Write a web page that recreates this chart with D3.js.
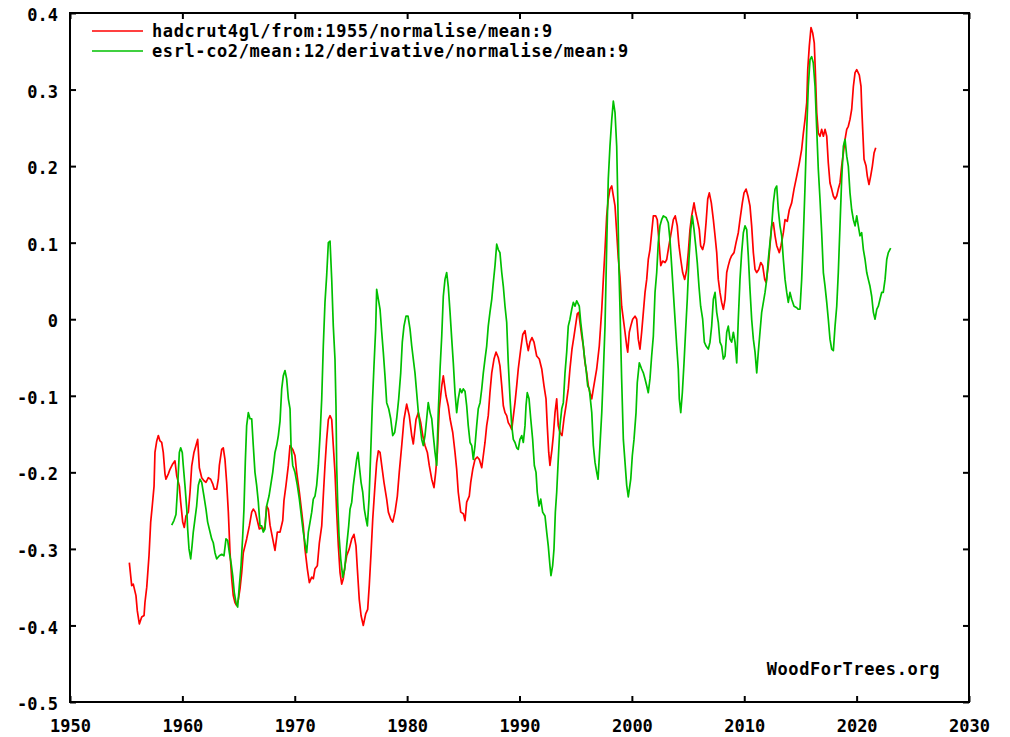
<!DOCTYPE html>
<html>
<head>
<meta charset="utf-8">
<script src="https://cdn.jsdelivr.net/npm/d3@7"></script>
<style>
  html, body { margin: 0; padding: 0; background: #fff; }
  svg { display: block; }
  .lbl { font-family: "DejaVu Sans Mono", monospace; font-weight: bold; fill: #000; }
</style>
</head>
<body>
<svg id="chart" width="1010" height="737"></svg>
<script>
// Series labels
const seriesNames = [
  "hadcrut4gl/from:1955/normalise/mean:9",
  "esrl-co2/mean:12/derivative/normalise/mean:9"
];
const seriesColors = ["#ff0000", "#00c000"];

// Axis ticks
const xTicks = [1950, 1960, 1970, 1980, 1990, 2000, 2010, 2020, 2030];
const yTicks = [-0.5, -0.4, -0.3, -0.2, -0.1, 0, 0.1, 0.2, 0.3, 0.4];

// HadCRUT4 global, normalised, 9-month mean: [year, value]
const hadcrut = [
  [1955.28,-0.318],[1955.49,-0.348],[1955.63,-0.346],[1955.87,-0.361],[1955.99,-0.381],[1956.17,-0.398],[1956.38,-0.389],[1956.59,-0.387],[1956.67,-0.370],[1956.83,-0.350],
  [1957.03,-0.309],[1957.18,-0.265],[1957.32,-0.244],[1957.48,-0.218],[1957.56,-0.174],[1957.72,-0.159],[1957.86,-0.152],[1958.01,-0.159],[1958.16,-0.161],[1958.30,-0.174],
  [1958.45,-0.202],[1958.54,-0.209],[1958.75,-0.202],[1958.90,-0.196],[1959.14,-0.189],[1959.34,-0.185],[1959.50,-0.205],[1959.73,-0.218],[1959.85,-0.239],[1960.03,-0.265],
  [1960.17,-0.272],[1960.32,-0.257],[1960.53,-0.252],[1960.68,-0.226],[1960.83,-0.192],[1961.03,-0.174],[1961.21,-0.165],[1961.36,-0.157],[1961.51,-0.194],[1961.72,-0.207],
  [1961.92,-0.211],[1962.10,-0.213],[1962.31,-0.207],[1962.52,-0.209],[1962.70,-0.215],[1962.84,-0.222],[1963.05,-0.222],[1963.20,-0.209],[1963.29,-0.191],[1963.50,-0.170],
  [1963.64,-0.168],[1963.79,-0.183],[1963.94,-0.213],[1964.09,-0.252],[1964.24,-0.305],[1964.39,-0.339],[1964.53,-0.361],[1964.68,-0.370],[1964.83,-0.374],[1964.98,-0.366],
  [1965.13,-0.352],[1965.28,-0.331],[1965.42,-0.305],[1965.72,-0.287],[1965.96,-0.270],[1966.17,-0.252],[1966.31,-0.248],[1966.49,-0.252],[1966.67,-0.263],[1966.85,-0.274],
  [1967.06,-0.272],[1967.20,-0.276],[1967.35,-0.270],[1967.50,-0.244],[1967.65,-0.248],[1967.80,-0.269],[1968.04,-0.287],[1968.24,-0.302],[1968.45,-0.278],[1968.69,-0.278],
  [1968.93,-0.263],[1969.04,-0.237],[1969.22,-0.217],[1969.43,-0.191],[1969.58,-0.165],[1969.82,-0.170],[1970.02,-0.178],[1970.17,-0.200],[1970.41,-0.226],[1970.62,-0.252],
  [1970.76,-0.270],[1970.91,-0.300],[1971.12,-0.326],[1971.30,-0.344],[1971.51,-0.337],[1971.65,-0.339],[1971.80,-0.326],[1972.01,-0.322],[1972.19,-0.292],[1972.40,-0.270],
  [1972.54,-0.231],[1972.69,-0.191],[1972.84,-0.157],[1972.99,-0.131],[1973.14,-0.126],[1973.29,-0.131],[1973.43,-0.165],[1973.58,-0.200],[1973.73,-0.252],[1973.88,-0.296],
  [1974.03,-0.331],[1974.18,-0.346],[1974.32,-0.339],[1974.47,-0.322],[1974.62,-0.309],[1974.85,-0.300],[1975.07,-0.287],[1975.27,-0.281],[1975.45,-0.296],[1975.57,-0.326],
  [1975.74,-0.366],[1975.90,-0.387],[1976.10,-0.400],[1976.31,-0.385],[1976.49,-0.379],[1976.63,-0.348],[1976.79,-0.305],[1976.94,-0.261],[1977.14,-0.217],[1977.29,-0.187],
  [1977.44,-0.172],[1977.59,-0.174],[1977.74,-0.191],[1977.94,-0.213],[1978.18,-0.235],[1978.33,-0.252],[1978.54,-0.261],[1978.72,-0.265],[1978.92,-0.252],[1979.13,-0.231],
  [1979.30,-0.200],[1979.52,-0.165],[1979.72,-0.131],[1979.96,-0.111],[1980.19,-0.126],[1980.41,-0.152],[1980.55,-0.163],[1980.79,-0.131],[1981.00,-0.122],[1981.21,-0.135],
  [1981.39,-0.152],[1981.59,-0.165],[1981.80,-0.174],[1981.97,-0.191],[1982.19,-0.209],[1982.39,-0.220],[1982.54,-0.200],[1982.69,-0.174],[1982.86,-0.117],[1983.08,-0.087],
  [1983.22,-0.074],[1983.46,-0.100],[1983.66,-0.113],[1983.82,-0.130],[1984.06,-0.148],[1984.26,-0.174],[1984.41,-0.196],[1984.55,-0.226],[1984.77,-0.252],[1985.00,-0.254],
  [1985.15,-0.263],[1985.30,-0.239],[1985.53,-0.231],[1985.66,-0.213],[1985.84,-0.196],[1986.04,-0.183],[1986.24,-0.180],[1986.42,-0.183],[1986.64,-0.194],[1986.78,-0.178],
  [1986.93,-0.161],[1987.08,-0.139],[1987.22,-0.126],[1987.37,-0.096],[1987.53,-0.070],[1987.73,-0.052],[1987.91,-0.043],[1988.11,-0.050],[1988.26,-0.061],[1988.42,-0.087],
  [1988.56,-0.113],[1988.71,-0.122],[1988.86,-0.126],[1989.00,-0.135],[1989.16,-0.139],[1989.31,-0.144],[1989.40,-0.133],[1989.60,-0.109],[1989.75,-0.087],[1989.89,-0.065],
  [1990.11,-0.039],[1990.29,-0.020],[1990.49,-0.015],[1990.64,-0.030],[1990.78,-0.041],[1990.93,-0.030],[1991.11,-0.024],[1991.29,-0.030],[1991.53,-0.048],[1991.76,-0.052],
  [1991.98,-0.065],[1992.18,-0.087],[1992.36,-0.104],[1992.47,-0.139],[1992.60,-0.174],[1992.71,-0.191],[1992.89,-0.170],[1993.01,-0.152],[1993.16,-0.122],[1993.31,-0.104],
  [1993.45,-0.139],[1993.60,-0.148],[1993.78,-0.152],[1993.96,-0.130],[1994.14,-0.113],[1994.34,-0.091],[1994.49,-0.065],[1994.67,-0.039],[1994.85,-0.022],[1995.03,-0.004],
  [1995.14,0.007],[1995.27,0.009],[1995.38,-0.004],[1995.54,-0.022],[1995.68,-0.035],[1995.83,-0.057],[1995.98,-0.070],[1996.12,-0.087],[1996.27,-0.096],[1996.43,-0.104],
  [1996.57,-0.091],[1996.72,-0.078],[1996.87,-0.065],[1997.10,-0.035],[1997.32,0.013],[1997.46,0.052],[1997.61,0.091],[1997.76,0.135],[1997.90,0.157],[1998.05,0.170],
  [1998.21,0.174],[1998.35,0.161],[1998.50,0.148],[1998.65,0.113],[1998.79,0.080],[1998.94,0.055],[1999.09,0.017],[1999.24,0.000],[1999.39,-0.017],[1999.54,-0.035],
  [1999.63,-0.043],[1999.77,-0.017],[1999.90,-0.009],[2000.07,0.000],[2000.28,0.004],[2000.43,0.000],[2000.57,-0.026],[2000.72,-0.039],[2000.87,-0.017],[2001.02,0.009],
  [2001.17,0.035],[2001.32,0.052],[2001.46,0.078],[2001.61,0.091],[2001.76,0.113],[2001.91,0.135],[2002.12,0.135],[2002.26,0.130],[2002.44,0.096],[2002.57,0.070],
  [2002.74,0.076],[2002.95,0.074],[2003.10,0.078],[2003.24,0.091],[2003.39,0.104],[2003.54,0.117],[2003.69,0.130],[2003.86,0.135],[2004.04,0.122],[2004.19,0.096],
  [2004.35,0.078],[2004.52,0.061],[2004.70,0.052],[2004.88,0.065],[2005.02,0.087],[2005.17,0.117],[2005.32,0.135],[2005.53,0.152],[2005.68,0.139],[2005.82,0.130],
  [2006.00,0.117],[2006.12,0.096],[2006.30,0.091],[2006.45,0.100],[2006.60,0.126],[2006.75,0.157],[2006.89,0.165],[2007.07,0.152],[2007.25,0.130],[2007.40,0.109],
  [2007.55,0.087],[2007.69,0.052],[2007.84,0.035],[2007.99,0.022],[2008.14,0.013],[2008.29,0.026],[2008.44,0.061],[2008.58,0.070],[2008.73,0.078],[2008.88,0.083],
  [2009.09,0.087],[2009.27,0.100],[2009.47,0.113],[2009.62,0.130],[2009.83,0.152],[2009.98,0.165],[2010.16,0.170],[2010.33,0.161],[2010.51,0.148],[2010.66,0.122],
  [2010.81,0.087],[2010.96,0.065],[2011.11,0.061],[2011.29,0.065],[2011.47,0.074],[2011.64,0.070],[2011.82,0.052],[2011.94,0.048],[2012.14,0.070],[2012.29,0.096],
  [2012.44,0.122],[2012.59,0.126],[2012.74,0.109],[2012.89,0.096],[2013.12,0.087],[2013.27,0.096],[2013.48,0.113],[2013.63,0.130],[2013.83,0.128],[2014.01,0.143],
  [2014.22,0.152],[2014.43,0.170],[2014.67,0.187],[2014.90,0.204],[2015.11,0.222],[2015.26,0.243],[2015.41,0.261],[2015.56,0.283],[2015.65,0.326],[2015.79,0.357],
  [2015.94,0.381],[2016.09,0.374],[2016.23,0.361],[2016.32,0.326],[2016.45,0.270],[2016.59,0.243],[2016.74,0.239],[2016.89,0.248],[2017.04,0.239],[2017.19,0.248],
  [2017.34,0.239],[2017.48,0.204],[2017.63,0.178],[2017.78,0.170],[2017.93,0.161],[2018.08,0.157],[2018.23,0.161],[2018.37,0.170],[2018.52,0.178],[2018.67,0.200],
  [2018.82,0.217],[2018.97,0.235],[2019.12,0.248],[2019.26,0.252],[2019.41,0.261],[2019.56,0.274],[2019.71,0.304],[2019.86,0.322],[2020.01,0.326],[2020.24,0.319],
  [2020.39,0.304],[2020.45,0.278],[2020.54,0.248],[2020.66,0.209],[2020.84,0.200],[2020.95,0.187],[2021.10,0.176],[2021.25,0.187],[2021.40,0.200],[2021.55,0.217],
  [2021.70,0.224]
];

// ESRL CO2, 12-month mean, derivative, normalised, 9-month mean: [year, value]
const co2Deriv = [
  [1959.05,-0.269],[1959.25,-0.263],[1959.43,-0.255],[1959.55,-0.226],[1959.64,-0.200],[1959.73,-0.174],[1959.85,-0.168],[1959.99,-0.174],[1960.08,-0.191],[1960.23,-0.217],
  [1960.39,-0.248],[1960.47,-0.274],[1960.59,-0.300],[1960.74,-0.313],[1960.86,-0.296],[1960.97,-0.278],[1961.12,-0.261],[1961.27,-0.244],[1961.42,-0.217],[1961.57,-0.209],
  [1961.72,-0.213],[1961.92,-0.231],[1962.10,-0.248],[1962.25,-0.265],[1962.46,-0.278],[1962.61,-0.287],[1962.75,-0.292],[1962.90,-0.305],[1963.05,-0.313],[1963.29,-0.309],
  [1963.50,-0.307],[1963.70,-0.309],[1963.88,-0.287],[1964.03,-0.289],[1964.18,-0.305],[1964.33,-0.318],[1964.48,-0.335],[1964.62,-0.357],[1964.77,-0.370],[1964.92,-0.376],
  [1965.07,-0.348],[1965.22,-0.322],[1965.37,-0.283],[1965.48,-0.248],[1965.60,-0.187],[1965.72,-0.139],[1965.87,-0.122],[1966.02,-0.130],[1966.17,-0.130],[1966.31,-0.165],
  [1966.46,-0.200],[1966.61,-0.217],[1966.76,-0.239],[1966.91,-0.270],[1967.06,-0.270],[1967.20,-0.278],[1967.35,-0.274],[1967.50,-0.244],[1967.71,-0.231],[1967.86,-0.217],
  [1968.04,-0.200],[1968.24,-0.174],[1968.39,-0.165],[1968.54,-0.152],[1968.69,-0.133],[1968.84,-0.091],[1968.98,-0.074],[1969.13,-0.067],[1969.28,-0.078],[1969.43,-0.104],
  [1969.58,-0.117],[1969.67,-0.165],[1969.82,-0.191],[1970.02,-0.200],[1970.23,-0.217],[1970.41,-0.235],[1970.62,-0.261],[1970.76,-0.278],[1970.91,-0.292],[1971.06,-0.305],
  [1971.21,-0.278],[1971.36,-0.265],[1971.51,-0.252],[1971.65,-0.235],[1971.80,-0.231],[1971.95,-0.217],[1972.10,-0.191],[1972.25,-0.152],[1972.40,-0.104],[1972.54,-0.035],
  [1972.69,0.022],[1972.84,0.057],[1972.99,0.100],[1973.14,0.102],[1973.29,0.052],[1973.43,-0.009],[1973.58,-0.052],[1973.67,-0.113],[1973.73,-0.191],[1973.82,-0.239],
  [1973.94,-0.283],[1974.09,-0.313],[1974.27,-0.337],[1974.45,-0.326],[1974.62,-0.296],[1974.80,-0.270],[1974.92,-0.248],[1975.07,-0.239],[1975.21,-0.217],[1975.36,-0.200],
  [1975.51,-0.183],[1975.63,-0.174],[1975.74,-0.191],[1975.90,-0.213],[1976.05,-0.226],[1976.19,-0.248],[1976.34,-0.261],[1976.46,-0.270],[1976.61,-0.235],[1976.76,-0.174],
  [1976.90,-0.113],[1977.05,-0.061],[1977.20,-0.013],[1977.29,0.039],[1977.44,0.026],[1977.59,0.013],[1977.74,-0.017],[1977.88,-0.043],[1978.03,-0.074],[1978.18,-0.109],
  [1978.36,-0.117],[1978.54,-0.130],[1978.72,-0.152],[1978.89,-0.148],[1979.07,-0.130],[1979.25,-0.104],[1979.43,-0.070],[1979.57,-0.030],[1979.72,-0.009],[1979.90,0.004],
  [1980.08,0.004],[1980.26,-0.013],[1980.41,-0.035],[1980.55,-0.052],[1980.70,-0.070],[1980.85,-0.096],[1981.00,-0.122],[1981.15,-0.139],[1981.30,-0.157],[1981.44,-0.165],
  [1981.59,-0.152],[1981.74,-0.130],[1981.88,-0.109],[1982.04,-0.122],[1982.19,-0.130],[1982.33,-0.152],[1982.48,-0.174],[1982.63,-0.191],[1982.77,-0.122],[1982.93,-0.065],
  [1983.08,-0.022],[1983.22,0.030],[1983.37,0.052],[1983.52,0.061],[1983.66,0.043],[1983.82,0.009],[1983.97,-0.026],[1984.11,-0.057],[1984.26,-0.096],[1984.41,-0.122],
  [1984.55,-0.104],[1984.71,-0.091],[1984.86,-0.096],[1985.00,-0.091],[1985.15,-0.094],[1985.30,-0.113],[1985.44,-0.139],[1985.60,-0.161],[1985.75,-0.165],[1985.89,-0.183],
  [1986.04,-0.165],[1986.19,-0.139],[1986.33,-0.117],[1986.49,-0.109],[1986.64,-0.091],[1986.78,-0.070],[1986.93,-0.052],[1987.08,-0.035],[1987.22,-0.009],[1987.37,0.009],
  [1987.53,0.026],[1987.67,0.048],[1987.82,0.070],[1987.97,0.098],[1988.11,0.091],[1988.26,0.087],[1988.42,0.061],[1988.56,0.043],[1988.71,0.017],[1988.86,-0.004],
  [1989.00,-0.057],[1989.16,-0.104],[1989.31,-0.139],[1989.45,-0.157],[1989.60,-0.161],[1989.75,-0.168],[1989.89,-0.170],[1990.04,-0.157],[1990.20,-0.152],[1990.34,-0.161],
  [1990.49,-0.139],[1990.58,-0.113],[1990.69,-0.096],[1990.85,-0.104],[1991.00,-0.130],[1991.17,-0.157],[1991.32,-0.191],[1991.47,-0.200],[1991.58,-0.226],[1991.74,-0.244],
  [1991.89,-0.235],[1992.06,-0.252],[1992.27,-0.257],[1992.42,-0.278],[1992.56,-0.296],[1992.71,-0.322],[1992.80,-0.335],[1992.95,-0.322],[1993.07,-0.300],[1993.19,-0.252],
  [1993.31,-0.226],[1993.45,-0.183],[1993.60,-0.139],[1993.76,-0.117],[1993.90,-0.109],[1994.05,-0.070],[1994.20,-0.043],[1994.34,-0.009],[1994.49,0.000],[1994.65,0.013],
  [1994.79,0.022],[1994.94,0.017],[1995.09,0.024],[1995.32,0.017],[1995.45,-0.004],[1995.62,-0.026],[1995.77,-0.048],[1995.92,-0.065],[1996.07,-0.087],[1996.21,-0.091],
  [1996.43,-0.122],[1996.57,-0.165],[1996.72,-0.187],[1996.87,-0.200],[1996.99,-0.209],[1997.16,-0.165],[1997.32,-0.122],[1997.46,-0.070],[1997.61,-0.009],[1997.76,0.096],
  [1997.90,0.183],[1998.05,0.226],[1998.21,0.261],[1998.35,0.285],[1998.50,0.270],[1998.65,0.226],[1998.74,0.161],[1998.85,0.065],[1998.94,0.015],[1999.09,-0.078],
  [1999.24,-0.157],[1999.39,-0.187],[1999.54,-0.217],[1999.68,-0.232],[1999.90,-0.209],[2000.04,-0.178],[2000.19,-0.157],[2000.37,-0.122],[2000.48,-0.083],[2000.66,-0.057],
  [2000.87,-0.065],[2001.02,-0.070],[2001.17,-0.078],[2001.32,-0.087],[2001.46,-0.096],[2001.61,-0.078],[2001.76,-0.048],[2001.91,-0.022],[2002.06,0.035],[2002.21,0.061],
  [2002.35,0.100],[2002.50,0.122],[2002.65,0.130],[2002.80,0.135],[2003.04,0.133],[2003.24,0.126],[2003.39,0.104],[2003.54,0.070],[2003.69,0.035],[2003.84,0.000],
  [2003.99,-0.035],[2004.13,-0.065],[2004.22,-0.104],[2004.35,-0.122],[2004.49,-0.096],[2004.64,-0.057],[2004.79,-0.013],[2004.93,0.026],[2005.08,0.078],[2005.24,0.117],
  [2005.38,0.135],[2005.53,0.117],[2005.68,0.096],[2005.82,0.074],[2005.97,0.043],[2006.12,0.017],[2006.30,0.000],[2006.45,-0.030],[2006.60,-0.035],[2006.80,-0.039],
  [2006.95,-0.030],[2007.10,-0.009],[2007.25,0.026],[2007.40,0.035],[2007.55,0.009],[2007.69,-0.004],[2007.84,-0.030],[2007.99,-0.035],[2008.14,-0.052],[2008.29,-0.048],
  [2008.44,-0.017],[2008.58,-0.009],[2008.73,-0.026],[2008.88,-0.030],[2009.03,-0.017],[2009.18,-0.030],[2009.33,-0.057],[2009.47,0.000],[2009.62,0.052],[2009.77,0.087],
  [2009.92,0.113],[2010.07,0.122],[2010.22,0.117],[2010.36,0.083],[2010.51,0.039],[2010.66,0.000],[2010.81,-0.026],[2010.96,-0.043],[2011.11,-0.070],[2011.25,-0.043],
  [2011.40,-0.017],[2011.55,0.009],[2011.70,0.022],[2011.85,0.035],[2012.00,0.052],[2012.14,0.078],[2012.29,0.100],[2012.44,0.122],[2012.59,0.152],[2012.74,0.170],
  [2012.89,0.174],[2013.03,0.143],[2013.18,0.122],[2013.33,0.109],[2013.48,0.078],[2013.63,0.052],[2013.78,0.035],[2013.92,0.022],[2014.07,0.035],[2014.22,0.026],
  [2014.43,0.017],[2014.67,0.015],[2014.81,0.013],[2014.96,0.013],[2015.11,0.052],[2015.26,0.109],[2015.41,0.174],[2015.56,0.248],[2015.70,0.304],[2015.85,0.339],
  [2016.00,0.343],[2016.14,0.335],[2016.30,0.304],[2016.45,0.248],[2016.59,0.196],[2016.74,0.157],[2016.89,0.113],[2017.04,0.061],[2017.19,0.043],[2017.34,0.022],
  [2017.48,0.000],[2017.63,-0.026],[2017.78,-0.039],[2017.93,-0.041],[2018.08,-0.009],[2018.23,0.017],[2018.37,0.061],[2018.52,0.122],[2018.67,0.183],[2018.82,0.226],
  [2018.97,0.235],[2019.12,0.213],[2019.26,0.200],[2019.41,0.165],[2019.56,0.143],[2019.71,0.130],[2019.86,0.122],[2020.01,0.135],[2020.15,0.122],[2020.30,0.109],
  [2020.45,0.113],[2020.60,0.091],[2020.75,0.078],[2020.90,0.061],[2021.04,0.052],[2021.19,0.043],[2021.34,0.030],[2021.49,0.009],[2021.64,0.000],[2021.79,0.013],
  [2021.93,0.017],[2022.08,0.026],[2022.23,0.035],[2022.37,0.035],[2022.53,0.052],[2022.68,0.078],[2022.82,0.087],[2023.03,0.093]
];

const seriesData = [hadcrut, co2Deriv];

const svg = d3.select("#chart");
const plot = { left: 70, right: 969, top: 13, bottom: 702 };

const x = d3.scaleLinear().domain([1950, 2030]).range([plot.left, plot.right]);
const y = d3.scaleLinear().domain([-0.5, 0.4]).range([plot.bottom, plot.top]);

// Data lines
const line = d3.line().x(d => x(d[0])).y(d => y(d[1]));
const lines = svg.append("g");
seriesData.forEach((s, i) => {
  lines.append("path")
    .datum(s)
    .attr("fill", "none")
    .attr("stroke", seriesColors[i])
    .attr("stroke-width", 1.7)
    .attr("stroke-linejoin", "round")
    .attr("d", line);
});

// Frame
svg.append("rect")
  .attr("x", plot.left).attr("y", plot.top)
  .attr("width", plot.right - plot.left).attr("height", plot.bottom - plot.top)
  .attr("fill", "none").attr("stroke", "#000").attr("stroke-width", 2);

const fmtY = d => d === 0 ? "0" : d.toFixed(1);

// Bottom axis with labels, ticks pointing inward
const gx = svg.append("g").attr("transform", `translate(0,${plot.bottom})`)
  .call(d3.axisBottom(x).tickValues(xTicks).tickFormat(d3.format("d")).tickSizeInner(-6).tickSizeOuter(0));
gx.select(".domain").remove();
gx.selectAll(".tick line").attr("stroke", "#000").attr("stroke-width", 2);
gx.selectAll(".tick text").attr("class", "lbl").attr("y", 30).attr("dy", null)
  .style("font-size", "17px").style("font-family", "'DejaVu Sans Mono', monospace").style("font-weight", "bold");

// Top axis: ticks only
const gxt = svg.append("g").attr("transform", `translate(0,${plot.top})`)
  .call(d3.axisTop(x).tickValues(xTicks).tickFormat("").tickSizeInner(-6).tickSizeOuter(0));
gxt.select(".domain").remove();
gxt.selectAll(".tick line").attr("stroke", "#000").attr("stroke-width", 2);

// Left axis with labels
const gy = svg.append("g").attr("transform", `translate(${plot.left},0)`)
  .call(d3.axisLeft(y).tickValues(yTicks).tickFormat(fmtY).tickSizeInner(-6).tickSizeOuter(0).tickPadding(12));
gy.select(".domain").remove();
gy.selectAll(".tick line").attr("stroke", "#000").attr("stroke-width", 2);
gy.selectAll(".tick text").attr("class", "lbl").attr("dy", "0.45em")
  .style("font-size", "17px").style("font-family", "'DejaVu Sans Mono', monospace").style("font-weight", "bold");

// Right axis: ticks only
const gyr = svg.append("g").attr("transform", `translate(${plot.right},0)`)
  .call(d3.axisRight(y).tickValues(yTicks).tickFormat("").tickSizeInner(-6).tickSizeOuter(0));
gyr.select(".domain").remove();
gyr.selectAll(".tick line").attr("stroke", "#000").attr("stroke-width", 2);

// Legend
const legend = svg.append("g");
seriesNames.forEach((name, i) => {
  const ly = 31 + i * 20;
  legend.append("line")
    .attr("x1", 92).attr("x2", 143).attr("y1", ly).attr("y2", ly)
    .attr("stroke", seriesColors[i]).attr("stroke-width", 1.7);
  legend.append("text")
    .attr("class", "lbl")
    .attr("x", 152).attr("y", ly + 6)
    .style("font-size", "17px")
    .style("letter-spacing", "0.6px")
    .text(name);
});

// Source credit
svg.append("text")
  .attr("class", "lbl")
  .attr("x", 940).attr("y", 675)
  .attr("text-anchor", "end")
  .style("font-size", "17px")
  .style("letter-spacing", "0.6px")
  .text("WoodForTrees.org");
</script>
</body>
</html>
